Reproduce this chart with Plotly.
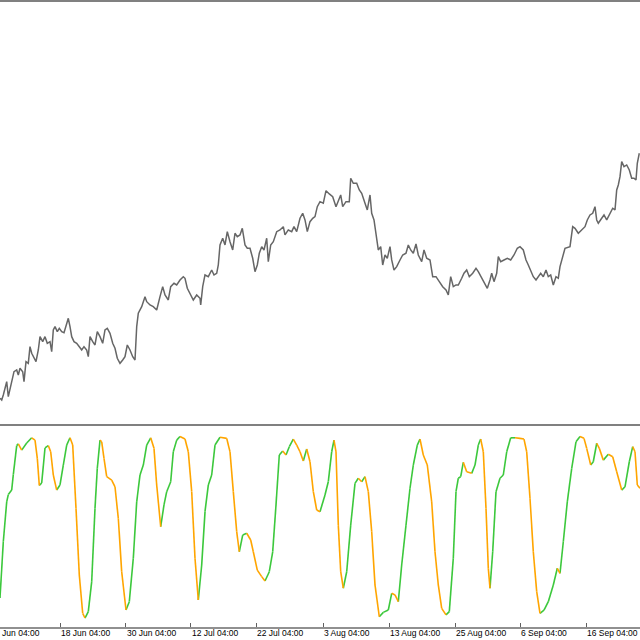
import plotly.graph_objects as go

# ---- data ----
# time axis in bar units
price_t = [0,1.7,3.3,5,6.7,8.3,10,11.7,14,16.7,18.3,20,22.7,24,26,28.3,30,31.7,33.3,36,38.3,40,42.7,45,47.3,50,51.7,53.3,55,57.3,59.3,61.7,64,66.7,68.3,70,71.7,74,76.7,79.3,81.7,84,86.7,88.3,90,92.7,95,97.3,100,102.7,105,107.3,110,112.7,115,117.3,120,122.7,125,127.3,130,132.7,135,
           136.7,138.3,141.7,145,146.7,150,153.3,156.7,160,162.7,165,168.3,170.7,174,176.7,180,183.3,185,187.3,190,193.3,196.7,200,200.7,202.7,205,208.3,211.7,214,216.7,218.3,220,222.7,225,227.3,230,232.7,235,237.3,240,242.3,245,247.3,250,252.7,255,257.3,259.3,261.7,264,266.7,268.3,270.7,273.3,276.7,280,283.3,285,288.3,291.7,294,296.7,300,302.7,305,307.3,310,312.7,315,317.3,
           320,323.3,326,329.3,332.7,336,338.3,340.7,342.7,346,349.3,350.7,353.3,356.7,359.3,361.7,365,367.3,370,371.7,374,376,378.3,380.7,382.7,385,387.3,390,391.7,394,396.7,400,402.7,406,408.3,410.7,413.3,416,418.3,421.7,424,426.7,430,432.7,436,439.3,442.7,446,448.3,450.7,453.3,456,458.3,461.7,464,466.7,469.3,472.7,476,478.3,481.7,485,487.3,490,491.7,494,496.7,498.3,500.7,504,507.3,510.7,514,517.3,520,523.3,526,528.3,530.7,533.3,536,538.3,540.7,543.3,546,548.3,550.7,553.3,556,558.3,560,
           565,570,572.7,575,578.3,581.7,585,587.3,590,592.7,595,596.7,598.3,601.7,604,606.7,610,612.7,615,616.7,618.3,620,621.7,624,626.7,629.3,631.7,634,636,637.3,639.3]
price = [21.7,20,25,33.3,38.3,23.3,31.7,40,48.3,50,45,51.7,48.3,38.3,58.3,56.7,73.3,66.7,63.3,58.3,70,83.3,78.3,83.3,76.7,78.3,68.3,90,93.3,88.3,91.7,88.3,87.3,96.7,101.7,93.3,83.3,78.3,76.7,73.3,70,73.3,70,63.3,83.3,78.3,75,88.3,83.3,76.7,90,91.7,86.7,76.7,71.7,61.7,56.7,60,63.3,75,70,63.3,60,
         93.3,106.7,113.3,123.3,118.3,115,113.3,110,123.3,133.3,125,120,133.3,136.7,135,140,143.3,141.7,131.7,126.7,120,125,121.7,115,133.3,145,143.3,150,145,146.7,155,175,181.7,175,188.3,178.3,170,186.7,183.3,185,191.7,175,171.7,171.7,161.7,148.3,155,166.7,173.3,170,181.7,158.3,175,178.3,188.3,190,193.3,185,190,188.3,193.3,188.3,201.7,206.7,200,188.3,198.3,201.7,203.3,213.3,
         218.3,216.7,229.3,226,223.3,213.3,218.3,225,213.3,218.3,218.3,241.7,236.7,236.7,230,226.7,216.7,210,225,206.7,200,183.3,170,173.3,155,165,161.7,173.3,160,150,153.3,160,165,166.7,175,170,166.7,176,165,158.3,170,161.7,160,143.3,143.3,138.3,133.3,130,125,143.3,133.3,135,135,141.7,146.7,150,143.3,146.7,151.7,148.3,141.7,135,131.7,140,146.7,138.3,146.7,163.3,158.3,160,161.7,160,165,171.7,173.3,170,160,155,150,143.3,140,143.3,146.7,143.3,150,143.3,145,135,143.3,141.7,153.3,
         171.7,173.3,193.3,191.7,186.7,190,193.3,200,205,206.7,213.3,200,196.7,201.7,205,200,206.7,211.7,210,230,235,243.3,258.3,253.3,255,250,241.7,241.7,240,256.7,266.7]

osc_t = [0,3.3,6.7,8.3,11.7,13.3,16.7,18.3,21.7,26.7,31.7,35,37.3,39.3,41.7,45,48.3,50.7,53.3,56.7,60,63.3,66.7,70,72.7,76,79.3,82.7,85,88.3,91.7,95,97.3,100,101.7,104,106.7,111.7,115,118.3,121.7,126,129.3,133.3,136.7,140,143.3,146.7,150.7,154,156.7,160.7,164,166.7,170.7,173.3,176.7,180,185,188.3,191.7,195,198.3,201.7,205,208.3,211.7,215,220,226.7,230,233.3,236.7,239.3,242.7,246.7,250.7,253.3,257.3,261.7,265,269.3,272.7,276,279.3,282.7,286,289.3,293.3,296.7,300,303.3,306.7,310,313.3,316.7,
         320,325,328.3,331.7,334,336,338.3,340.7,343.3,346.7,350.7,355,358.3,361.7,365,368.3,371.7,375,379.3,383.3,388.3,391.7,395,398.3,401.7,406,410,413.3,417.3,420,423.3,427.3,431.7,435,438.3,441.7,446,449.3,453.3,456,458.3,460.7,463.3,466.7,471.7,475,478.3,480.7,483.3,486,488.3,490,492.7,496,500,503.3,506.7,510.7,515,520,524,526.7,530,533.3,536.7,540,544,548.3,553.3,557.3,560,563.3,567.3,571.7,576,580,584,586.7,590.7,593.3,596.7,599.3,603.3,608.3,612.7,616.7,621.7,625,629.3,632.7,635,637.3,640]
osc = [11,42,64,68,70.5,79,95,96,92.5,96.4,99.3,98,88,73,74.4,93.7,95,91.6,78.8,70.5,73.3,84.3,95.3,99.3,95.3,60.4,23.7,2.6,0,3.5,20,60.4,82.5,98,97.1,88,77.9,76,72.3,54.9,25.5,4.4,9,32.9,64,78.8,84.3,95.3,99.3,93.5,73.3,50.3,62.3,69.6,75.1,91.6,98,100,98.6,91.6,69.6,32.9,9.9,29.2,58.6,73.3,78.8,95.3,99.6,99,91.6,69.6,47.6,36.5,45.7,46.7,43,36.5,26.4,22.8,20.4,25.5,36.5,62.3,89.8,92,89.8,94.4,98.6,95.3,91.6,86.5,93.1,86.1,69.6,59.5,
       58.6,67.8,75.1,91.6,98,91.6,51.2,25.5,16.4,25.5,51.2,74.2,77,75.1,77.9,69.6,47.6,18.2,0.7,3.1,4.4,13.6,12.7,9,29.2,51.2,71.5,84.3,95.3,98.6,89.8,84.3,64,36.5,18.2,5.3,1.7,3.5,32.9,69.6,77,77.9,85.8,80.6,79.7,84.3,95.3,98.6,91.6,60.4,27.4,16.4,36.5,69.6,77,78.8,91.6,99.3,99.3,99,98.6,91.6,66,36.5,14.5,2.6,4.4,9,18.2,27.4,24.6,42,64,82.5,97.1,100,99,93.5,84.3,86.1,96.3,93.5,87,90.2,88.9,80.6,70.5,72.3,86.1,94.4,91.6,73.3,71.5]

tick_t = [-5.7, 60, 125.5, 190.5, 256, 323, 389, 455, 520, 586]
tick_labels = ["6 Jun 04:00", "18 Jun 04:00", "30 Jun 04:00", "12 Jul 04:00", "22 Jul 04:00", "3 Aug 04:00",
               "13 Aug 04:00", "25 Aug 04:00", "6 Sep 04:00", "16 Sep 04:00"]

X_RANGE = [0, 640]
GREEN = "#3cc83c"
ORANGE = "#ffa500"
FONT = dict(family="Liberation Sans", size=8.5, color="#000000")

fig = go.Figure()

fig.add_trace(go.Scatter(x=price_t, y=price, mode="lines",
                         line=dict(color="#666666", width=1.5),
                         xaxis="x", yaxis="y", showlegend=False, hoverinfo="skip"))

# oscillator coloured by direction
gx, gy, ox, oy = [], [], [], []
for i in range(len(osc) - 1):
    up = osc[i + 1] >= osc[i]
    tx, ty = (gx, gy) if up else (ox, oy)
    tx += [osc_t[i], osc_t[i + 1], None]
    ty += [osc[i], osc[i + 1], None]
fig.add_trace(go.Scatter(x=gx, y=gy, mode="lines", line=dict(color=GREEN, width=1.6),
                         xaxis="x2", yaxis="y2", showlegend=False, hoverinfo="skip"))
fig.add_trace(go.Scatter(x=ox, y=oy, mode="lines", line=dict(color=ORANGE, width=1.6),
                         xaxis="x2", yaxis="y2", showlegend=False, hoverinfo="skip"))

fig.update_layout(
    width=640, height=640,
    margin=dict(l=0, r=0, t=0, b=0),
    paper_bgcolor="white", plot_bgcolor="white",
    font=FONT,
    xaxis=dict(domain=[0, 1], range=X_RANGE, anchor="y", showgrid=False, zeroline=False,
               showticklabels=False, showline=True, mirror=True, linecolor="#808080", linewidth=2,
               ticks=""),
    yaxis=dict(domain=[0.3375, 0.997], range=[-4, 418], showgrid=False, zeroline=False,
               showticklabels=False, showline=False, ticks=""),
    xaxis2=dict(domain=[0, 1], range=X_RANGE, anchor="y2", matches="x", showgrid=False, zeroline=False,
                showline=True, linecolor="#909090", linewidth=2,
                tickmode="array", tickvals=tick_t, showticklabels=False,
                ticks="inside", ticklen=4, tickcolor="#606060", tickwidth=1),
    yaxis2=dict(domain=[0.0203, 0.3375], range=[-4.96, 106.9], showgrid=False, zeroline=False,
                showticklabels=False, showline=False, ticks=""),
)

# tick labels, left-aligned at each tick (the first one lies just left of the visible range)
for t, lab in zip(tick_t, tick_labels):
    if X_RANGE[0] <= t <= X_RANGE[1]:
        fig.add_annotation(x=t, xref="x2", y=0, yref="y2 domain", yanchor="top", xanchor="left",
                           text=lab, showarrow=False, font=FONT, yshift=1, xshift=-1)
    else:
        frac = (t - X_RANGE[0]) / (X_RANGE[1] - X_RANGE[0])
        fig.add_annotation(x=frac, xref="x2 domain", y=0, yref="y2 domain", yanchor="top", xanchor="left",
                           text=lab, showarrow=False, font=FONT, yshift=1, xshift=-1)

fig.write_html("out.html", config={"displayModeBar": False},
               post_script="document.body.style.margin='0';document.body.style.overflow='hidden';")
